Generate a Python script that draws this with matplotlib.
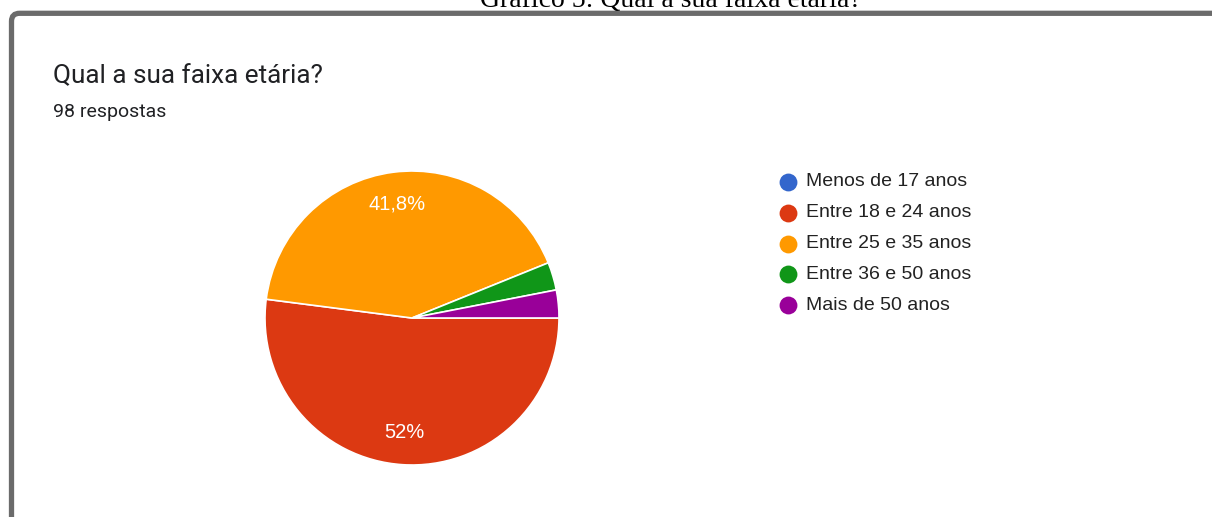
import matplotlib
matplotlib.use('Agg')
import matplotlib.pyplot as plt
from matplotlib.patches import FancyBboxPatch

# Respostas por faixa etária (98 no total)
faixas = ["Menos de 17 anos", "Entre 18 e 24 anos", "Entre 25 e 35 anos",
          "Entre 36 e 50 anos", "Mais de 50 anos"]
respostas = [0, 51, 41, 3, 3]
cores = ["#3366cc", "#dc3912", "#ff9900", "#109618", "#990099"]

titulo = "Qual a sua faixa etária?"
subtitulo = "98 respostas"
legenda_fig = "Gráfico 5: Qual a sua faixa etária?"

W, H = 1212, 517
fig = plt.figure(figsize=(W / 100, H / 100), dpi=100)
ax = fig.add_axes([0, 0, 1, 1])


def py(y):
    # coordenada a partir do topo da imagem
    return H - y


# moldura cinza (só topo e esquerda aparecem)
frame = FancyBboxPatch((11.5, py(700)), 1400, 700 - 13.3,
                       boxstyle="round,pad=0,rounding_size=8",
                       facecolor='white', edgecolor='#6b6b6b', linewidth=3.8,
                       zorder=0)
ax.add_patch(frame)

ax.text(671, py(7), legenda_fig, ha='center', va='baseline',
        fontsize=20, family='Liberation Serif', color='black')

ax.text(53, py(83), titulo, ha='left', va='baseline', fontsize=18.8,
        family='Roboto', color='#202124')
ax.text(53, py(117), subtitulo, ha='left', va='baseline', fontsize=14,
        family='Roboto', color='#202124')


def fmt(p):
    if p < 5:
        return ''
    s = f"{p:.1f}"
    if s.endswith('.0'):
        s = s[:-2]
    return s.replace('.', ',') + '%'


wedges, _, autotexts = ax.pie(
    respostas, colors=cores, startangle=0, counterclock=False,
    center=(412, py(318)), radius=147, autopct=fmt, pctdistance=0.78,
    wedgeprops=dict(edgecolor='white', linewidth=1.2),
    textprops=dict(color='white', fontsize=14.5, family='Liberation Sans'),
    frame=True)
ax.set_xlim(0, W)
ax.set_ylim(0, H)
ax.set_aspect('equal')
ax.axis('off')

# legenda
for i, (nome, cor) in enumerate(zip(faixas, cores)):
    y = py(182 + i * 30.8)
    ax.scatter([788], [y], s=165, color=cor, zorder=3, linewidths=0)
    ax.text(806, y, nome, ha='left', va='center', fontsize=14,
            family='Liberation Sans', color='#222222')

fig.savefig('out.png', dpi=100, facecolor='white')
